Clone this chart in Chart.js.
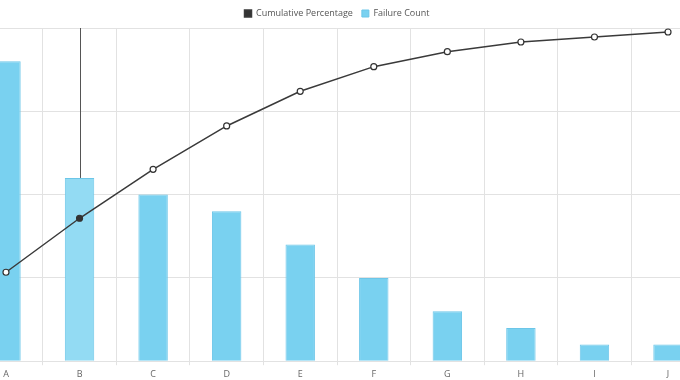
<!DOCTYPE html>
<html>
<head>
<meta charset="utf-8">
<script src="https://cdn.jsdelivr.net/npm/chart.js@4/dist/chart.umd.min.js"></script>
<style>
  html, body { margin: 0; padding: 0; background: #fff; overflow: hidden; }
  #wrap { position: absolute; left: -36px; top: 0; width: 746px; height: 384px; }
</style>
</head>
<body>
<div id="wrap"><canvas id="chart"></canvas></div>
<script>
// Datos
const categories = ['A', 'B', 'C', 'D', 'E', 'F', 'G', 'H', 'I', 'J'];
const failureCount = [54, 33, 30, 27, 21, 15, 9, 6, 3, 3];
const cumulativePct = [26.7, 42.9, 57.6, 70.6, 81.0, 88.4, 92.9, 95.8, 97.3, 98.8];
const hoverIndex = 1;

Chart.defaults.font.family = "'Open Sans', sans-serif";
Chart.defaults.font.size = 9;
Chart.defaults.color = '#555';

// Colores de barras / puntos (la barra B aparece resaltada)
let barColors = categories.map((c, i) => i === hoverIndex ? '#93dbf3' : '#79d1f0');
let pointFill = categories.map((c, i) => i === hoverIndex ? '#333' : '#fff');

// Línea vertical del cursor sobre la categoría resaltada
const crosshair = {
    id: 'crosshair',
    beforeDatasetsDraw(chart) {
        let x = chart.scales.x.getPixelForValue(hoverIndex);
        let yEnd = chart.scales.y.getPixelForValue(failureCount[hoverIndex]);
        let ctx = chart.ctx;
        ctx.save();
        ctx.strokeStyle = '#555';
        ctx.lineWidth = 1;
        ctx.beginPath();
        ctx.moveTo(Math.round(x) + 0.5, chart.chartArea.top);
        ctx.lineTo(Math.round(x) + 0.5, yEnd);
        ctx.stroke();
        ctx.restore();
    }
};

new Chart(document.getElementById('chart'), {
    type: 'bar',
    data: {
        labels: categories,
        datasets: [{
            type: 'line',
            label: 'Cumulative Percentage',
            data: cumulativePct,
            yAxisID: 'y1',
            borderColor: '#3a3a3a',
            backgroundColor: '#333',
            borderWidth: 1.5,
            pointRadius: 3,
            pointBorderWidth: 1.2,
            pointBorderColor: '#333',
            pointBackgroundColor: pointFill,
            tension: 0,
            order: 0
        }, {
            type: 'bar',
            label: 'Failure Count',
            data: failureCount,
            yAxisID: 'y',
            backgroundColor: barColors,
            borderColor: '#6cc6e8',
            borderWidth: 1,
            barPercentage: 0.4,
            categoryPercentage: 1,
            order: 1
        }]
    },
    options: {
        responsive: true,
        maintainAspectRatio: false,
        animation: false,
        layout: { padding: 0 },
        plugins: {
            legend: {
                position: 'top',
                labels: {
                    boxWidth: 7,
                    boxHeight: 7,
                    padding: 9,
                    font: { size: 9 }
                }
            },
            tooltip: { enabled: false }
        },
        scales: {
            x: {
                grid: { color: '#e2e2e2', offset: true, tickLength: 4 },
                border: { color: '#e2e2e2' },
                ticks: { font: { size: 9 }, color: '#666', padding: 4 }
            },
            y: {
                min: 0,
                max: 60,
                ticks: { stepSize: 15, display: false },
                grid: { color: '#e2e2e2', drawTicks: false },
                border: { display: false }
            },
            y1: {
                display: false,
                min: 0,
                max: 100
            }
        }
    },
    plugins: [crosshair]
});
</script>
</body>
</html>
